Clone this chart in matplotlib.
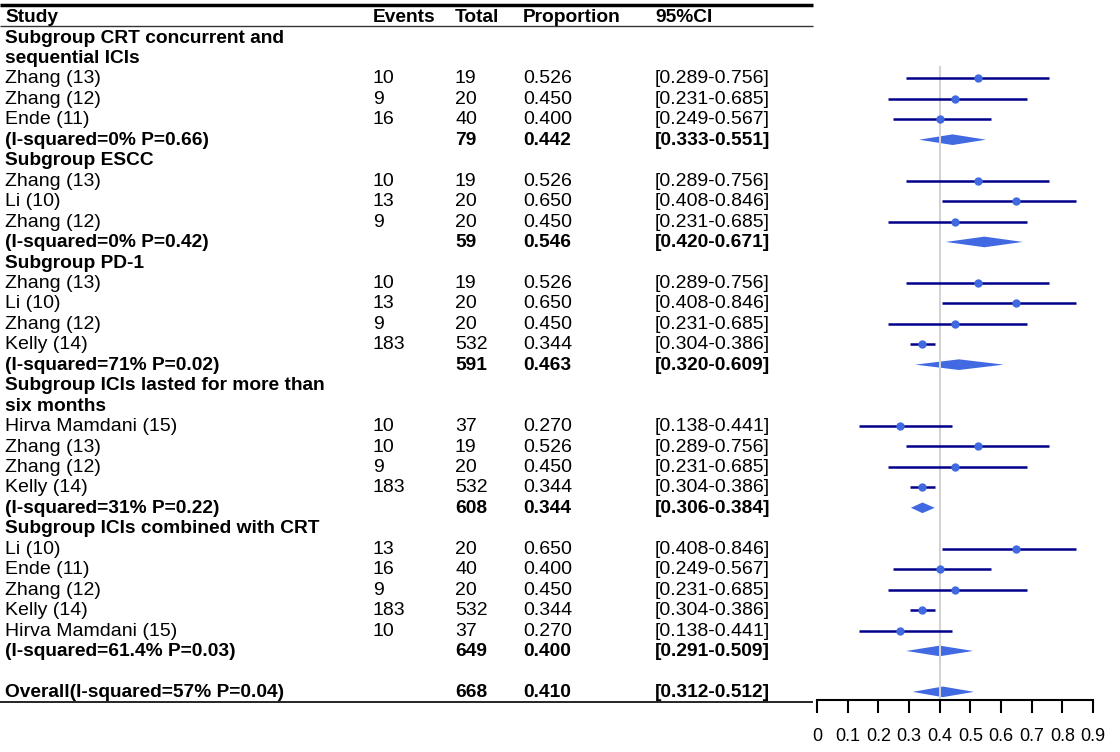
import numpy as np
import matplotlib.pyplot as plt
from matplotlib.patches import Polygon

plt.rcParams['font.family'] = ['Liberation Sans', 'DejaVu Sans']

# study level data
study_names = ["Zhang (13)", "Zhang (12)", "Ende (11)", "Li (10)", "Kelly (14)", "Hirva Mamdani (15)"]
study_events = [10, 9, 16, 13, 183, 10]
study_totals = [19, 20, 40, 20, 532, 37]
study_prop = [0.526, 0.450, 0.400, 0.650, 0.344, 0.270]
study_lo = [0.289, 0.231, 0.249, 0.408, 0.304, 0.138]
study_hi = [0.756, 0.685, 0.567, 0.846, 0.386, 0.441]

# subgroups
sub_titles = [["Subgroup CRT concurrent and", "sequential ICIs"],
              ["Subgroup ESCC"],
              ["Subgroup PD-1"],
              ["Subgroup ICIs lasted for more than", "six months"],
              ["Subgroup ICIs combined with CRT"]]
sub_members = [["Zhang (13)", "Zhang (12)", "Ende (11)"],
               ["Zhang (13)", "Li (10)", "Zhang (12)"],
               ["Zhang (13)", "Li (10)", "Zhang (12)", "Kelly (14)"],
               ["Hirva Mamdani (15)", "Zhang (13)", "Zhang (12)", "Kelly (14)"],
               ["Li (10)", "Ende (11)", "Zhang (12)", "Kelly (14)", "Hirva Mamdani (15)"]]
sub_het = ["(I-squared=0% P=0.66)", "(I-squared=0% P=0.42)", "(I-squared=71% P=0.02)",
           "(I-squared=31% P=0.22)", "(I-squared=61.4% P=0.03)"]
sub_total = [79, 59, 591, 608, 649]
sub_prop = [0.442, 0.546, 0.463, 0.344, 0.400]
sub_lo = [0.333, 0.420, 0.320, 0.306, 0.291]
sub_hi = [0.551, 0.671, 0.609, 0.384, 0.509]

overall_label = "Overall(I-squared=57% P=0.04)"
overall_total = 668
overall_prop = 0.410
overall_lo, overall_hi = 0.312, 0.512

headers = ["Study", "Events", "Total", "Proportion", "95%CI"]
col_x = [5, 373, 455, 523, 655]

W, H = 1120, 752
row0, dy = 17, 20.45

def row_of(px):
    return (px - row0) / dy

fig = plt.figure(figsize=(W / 100, H / 100), dpi=100)
ybot = 700
ylim = (row_of(ybot), row_of(0))
tab = fig.add_axes([0, 1 - ybot / H, 1, ybot / H])
tab.set_xlim(0, W)
tab.set_ylim(*ylim)
tab.axis("off")

fa = fig.add_axes([817 / W, 1 - ybot / H, (1093 - 817) / W, ybot / H])
fa.set_xlim(0, 0.9)
fa.set_ylim(*ylim)
fa.patch.set_alpha(0)
for s in ["top", "left", "right"]:
    fa.spines[s].set_visible(False)
fa.spines["bottom"].set_linewidth(1.5)
fa.set_yticks([])
ticks = np.round(np.arange(0, 0.95, 0.1), 1)
fa.set_xticks(ticks)
fa.set_xticklabels(["0" if t == 0 else "%.1f" % t for t in ticks])
fa.tick_params(axis="x", direction="out", length=9.5, width=1.5, labelsize=13, pad=11)

fs_reg, fs_bold = 14, 13.8
def put(row, vals, bold=False):
    for x, v in zip(col_x, vals):
        if v is None:
            continue
        tab.text(x, row + 0.03, v, fontsize=fs_bold if bold else fs_reg, va="center", ha="left",
                 fontweight="bold" if bold else "normal")

def diamond(row, est, lo, hi, h=0.26):
    fa.add_patch(Polygon([(lo, row), (est, row - h), (hi, row), (est, row + h)],
                         closed=True, color="#4169E1", lw=0))

put(0, headers, bold=True)
r = 1
first_study_row = None
for g in range(len(sub_titles)):
    for t in sub_titles[g]:
        put(r, [t], bold=True)
        r += 1
    for name in sub_members[g]:
        i = study_names.index(name)
        ci = "[%.3f-%.3f]" % (study_lo[i], study_hi[i])
        put(r, [name, str(study_events[i]), str(study_totals[i]), "%.3f" % study_prop[i], ci])
        fa.plot([study_lo[i], study_hi[i]], [r, r], color="#00008B", lw=1.8, solid_capstyle="butt", zorder=3)
        fa.plot(study_prop[i], r, "o", color="#4169E1", ms=5, zorder=4)
        if first_study_row is None:
            first_study_row = r
        r += 1
    ci = "[%.3f-%.3f]" % (sub_lo[g], sub_hi[g])
    put(r, [sub_het[g], None, str(sub_total[g]), "%.3f" % sub_prop[g], ci], bold=True)
    diamond(r, sub_prop[g], sub_lo[g], sub_hi[g])
    r += 1
r += 1
put(r, [overall_label, None, str(overall_total), "%.3f" % overall_prop,
        "[%.3f-%.3f]" % (overall_lo, overall_hi)], bold=True)
diamond(r, overall_prop, overall_lo, overall_hi)

fa.plot([0.4, 0.4], [first_study_row - 0.55, ylim[0]], color="#d3d3d3", lw=1.5, zorder=1, clip_on=False)

# rules
tab.plot([0, 813], [row_of(5)] * 2, color="black", lw=2.5, solid_capstyle="butt")
tab.plot([0, 813], [row_of(26)] * 2, color="#333333", lw=1.0, solid_capstyle="butt")
tab.plot([0, 813], [row_of(702)] * 2, color="black", lw=1.2, solid_capstyle="butt", clip_on=False)

fig.savefig("out.png", dpi=100)
